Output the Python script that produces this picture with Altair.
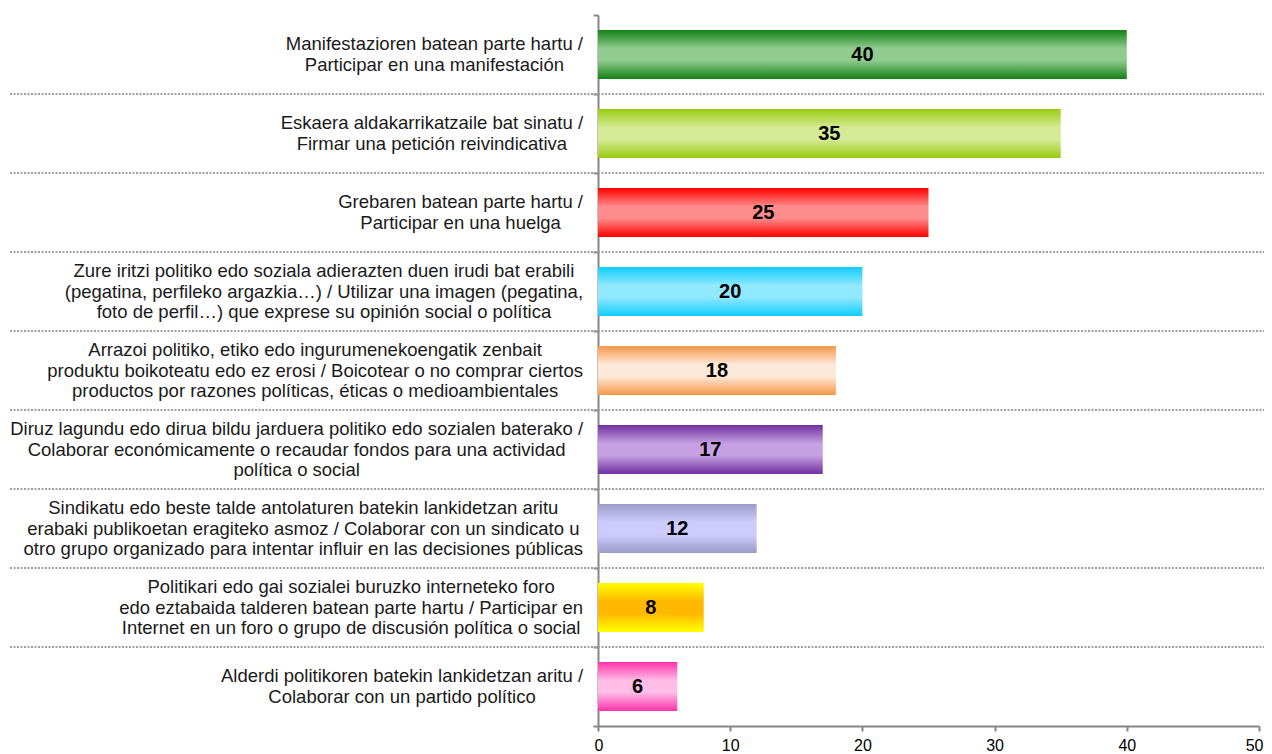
import altair as alt
import pandas as pd

# ---------------- data ----------------
labels = [
    "Manifestazioren batean parte hartu /\nParticipar en una manifestación",
    "Eskaera aldakarrikatzaile bat sinatu /\nFirmar una petición reivindicativa",
    "Grebaren batean parte hartu /\nParticipar en una huelga",
    "Zure iritzi politiko edo soziala  adierazten duen irudi bat erabili\n(pegatina, perfileko argazkia…) / Utilizar una imagen (pegatina,\nfoto de perfil…) que exprese su opinión social o política",
    "Arrazoi politiko, etiko edo ingurumenekoengatik zenbait\nproduktu boikoteatu edo ez erosi / Boicotear o no comprar ciertos\nproductos por razones políticas, éticas o medioambientales",
    "Diruz lagundu edo dirua bildu jarduera politiko edo sozialen baterako /\nColaborar económicamente o recaudar fondos para una actividad\npolítica o social",
    "Sindikatu edo beste talde antolaturen batekin lankidetzan aritu\nerabaki publikoetan eragiteko asmoz / Colaborar con un sindicato u\notro grupo organizado para intentar influir en las decisiones públicas",
    "Politikari edo gai sozialei buruzko interneteko foro\nedo eztabaida talderen batean parte hartu / Participar en\nInternet en un foro o grupo de discusión política o social",
    "Alderdi politikoren batekin lankidetzan aritu /\nColaborar con un partido político",
]
values = [40, 35, 25, 20, 18, 17, 12, 8, 6]
x_ticks = [0, 10, 20, 30, 40, 50]

# ---------------- styles ----------------
edge_colors = ["#168016", "#99cc11", "#ff0000", "#11ccff", "#f79646",
               "#7030a0", "#9c9cc8", "#ffff00", "#ff33aa"]
mid_colors = ["#90cc90", "#d5ea95", "#ff8c8c", "#90e9ff", "#fde9d9",
              "#c6a0e2", "#ccccff", "#ffb800", "#ffbde8"]

FONT = "Liberation Sans"
LABEL_SIZE = 18.5
LINE_H = 20.5
GAP = 15
PLOT_W, PLOT_H = 661, 711

# Arial / Liberation Sans advance widths (units per 1000 em) to centre label lines
W = dict(zip("abcdefghijklmnopqrstuvwxyz",
             [556, 556, 500, 556, 556, 278, 556, 556, 222, 222, 500, 222, 833,
              556, 556, 556, 556, 333, 500, 278, 556, 500, 722, 500, 500, 500]))
W.update(dict(zip("ABCDEFGHIJKLMNOPQRSTUVWXYZ",
                  [667, 667, 722, 722, 667, 611, 778, 722, 278, 500, 667, 556, 833,
                   722, 778, 667, 778, 722, 667, 611, 722, 667, 944, 667, 667, 611])))
W.update({"á": 556, "é": 556, "í": 278, "ó": 556, "ú": 556, "ñ": 556,
          " ": 278, "/": 278, "(": 333, ")": 333, ",": 278, ".": 278,
          "…": 1000, "-": 333})


def text_width(s, size):
    return sum(W.get(ch, 556) for ch in s) * size / 1000.0


df = pd.DataFrame({"idx": list(range(len(labels))), "cat": labels, "value": values})
df["lx"] = [-(GAP + max(text_width(l, LABEL_SIZE) for l in lab.split("\n")) / 2.0)
            for lab in labels]
df["nl"] = [len(lab.split("\n")) for lab in labels]

AX_COLOR = "#868686"

y_scale = alt.Scale(domain=labels, paddingInner=0, paddingOuter=0)
y_axis = alt.Axis(labels=False, title=None, tickBand="extent", grid=False,
                  domainColor=AX_COLOR, domainWidth=2, tickColor=AX_COLOR,
                  tickWidth=2, tickSize=5)
x_scale = alt.Scale(domain=[0, 50], nice=False, zero=True)
x_axis = alt.Axis(values=x_ticks, title=None, grid=False, domainColor=AX_COLOR,
                  domainWidth=2, tickColor=AX_COLOR, tickWidth=2, tickSize=5,
                  labelFont=FONT, labelFontSize=16, labelColor="#000000",
                  labelPadding=6, labelFlush=True, labelFlushOffset=4)

y_enc = alt.Y("cat:N", sort=None, scale=y_scale, axis=y_axis)
x_enc = alt.X("value:Q", scale=x_scale, axis=x_axis)

base = alt.Chart(df)

rules = base.transform_filter("datum.idx > 0").mark_rule(
    strokeDash=[2, 1.5], strokeWidth=2, color="#a0a0a0"
).encode(
    y=alt.Y("cat:N", sort=None, scale=y_scale, axis=y_axis, bandPosition=0),
    x=alt.value(-588),
    x2=alt.value(667),
)

bars = []
for i in range(len(labels)):
    grad = alt.LinearGradient(
        gradient="linear",
        x1=0, x2=0, y1=0, y2=1,
        stops=[
            alt.GradientStop(offset=0, color=edge_colors[i]),
            alt.GradientStop(offset=0.38, color=mid_colors[i]),
            alt.GradientStop(offset=0.62, color=mid_colors[i]),
            alt.GradientStop(offset=1, color=edge_colors[i]),
        ],
    )
    bars.append(
        base.transform_filter(f"datum.idx == {i}")
        .mark_bar(size=49, fill=grad)
        .encode(x=x_enc, y=y_enc)
    )

value_text = base.transform_calculate(half="datum.value / 2").mark_text(
    font=FONT, fontSize=20, fontWeight="bold", color="#000000"
).encode(
    x=alt.X("half:Q", scale=x_scale, axis=x_axis),
    y=y_enc,
    text=alt.Text("value:Q"),
)

cat_layers = []
for n in (2, 3):
    cat_layers.append(
        base.transform_filter(f"datum.nl == {n}").mark_text(
            font=FONT, fontSize=LABEL_SIZE, color="#1a1a1a", align="center",
            baseline="middle", lineBreak="\n", lineHeight=LINE_H,
            dy=-(n - 1) * LINE_H / 2.0
        ).encode(
            x=alt.X("lx:Q", scale=None, axis=None),
            y=y_enc,
            text=alt.Text("cat:N"),
        )
    )

chart = alt.layer(rules, *bars, value_text, *cat_layers).properties(
    width=PLOT_W, height=PLOT_H,
    autosize="none",
    padding={"left": 590, "top": 7, "right": 5, "bottom": 30},
).configure_view(strokeWidth=0)

chart.save("out.html", embed_options={"renderer": "svg", "actions": False})
